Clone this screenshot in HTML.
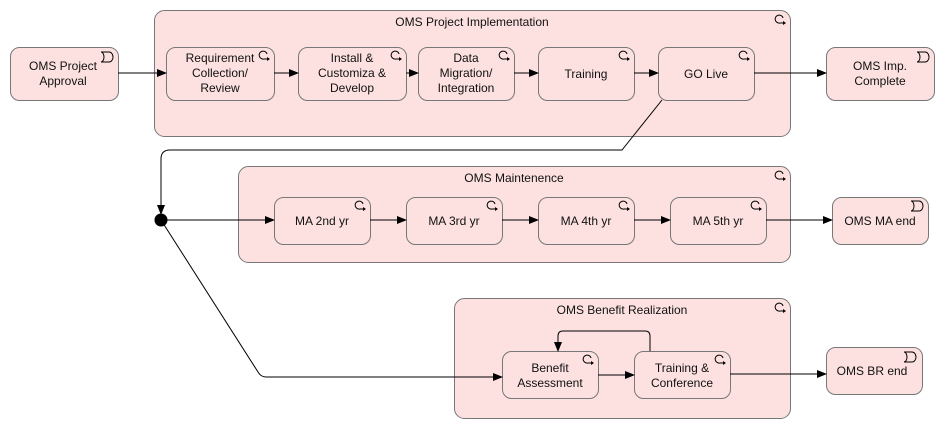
<!DOCTYPE html>
<html><head><meta charset="utf-8"><style>
html,body{margin:0;padding:0;background:#fff;}
svg{display:block;font-family:"Liberation Sans",sans-serif;}
text{font-size:12px;fill:#111;text-anchor:middle;}
.b{fill:#fde1e1;stroke:#777;stroke-width:1;}
.l{stroke:#000;stroke-width:1;fill:none;}
</style></head><body>
<svg width="945" height="429" viewBox="0 0 945 429">
<defs>
<marker id="a" markerWidth="10" markerHeight="8" refX="9" refY="4" orient="auto" markerUnits="userSpaceOnUse"><path d="M0,0 L10,4 L0,8z" fill="#000"/></marker>
<g id="loop"><path d="M6,8 A4,4 0 1 1 9,3" fill="none" stroke="#000" stroke-width="1"/><path d="M6,8 L10,8" stroke="#000"/><path d="M9,6 L12,8 L9,10z" fill="#000"/></g>
<g id="ev"><path d="M0,0 H8 A4,5 0 0 1 8,10 H0 A3,5 0 0 0 0,0z" fill="none" stroke="#000" stroke-width="1"/></g>
</defs>
<!-- groups -->
<rect class="b" x="154.5" y="10.5" width="636" height="126" rx="10"/>
<text x="472" y="26">OMS Project Implementation</text>
<use href="#loop" x="774" y="15"/>
<rect class="b" x="238.5" y="166.5" width="552" height="96" rx="10"/>
<text x="514" y="182">OMS Maintenence</text>
<use href="#loop" x="774" y="171"/>
<rect class="b" x="454.5" y="298.5" width="336" height="120" rx="10"/>
<text x="622" y="314">OMS Benefit Realization</text>
<use href="#loop" x="774" y="303"/>
<!-- row1 -->
<rect class="b" x="10.5" y="47.5" width="108" height="53" rx="9"/>
<text x="63" y="70">OMS Project</text><text x="63" y="85">Approval</text>
<use href="#ev" x="101" y="52"/>
<rect class="b" x="166.5" y="47.5" width="108" height="53" rx="9"/>
<text x="220" y="62">Requirement</text><text x="220" y="77">Collection/</text><text x="220" y="92">Review</text>
<use href="#loop" x="258" y="51"/>
<rect class="b" x="298.5" y="47.5" width="108" height="53" rx="9"/>
<text x="352" y="62">Install &amp;</text><text x="352" y="77">Customiza &amp;</text><text x="352" y="92">Develop</text>
<use href="#loop" x="390" y="51"/>
<rect class="b" x="418.5" y="47.5" width="96" height="53" rx="9"/>
<text x="466" y="62">Data</text><text x="466" y="77">Migration/</text><text x="466" y="92">Integration</text>
<use href="#loop" x="498" y="51"/>
<rect class="b" x="538.5" y="47.5" width="96" height="53" rx="9"/>
<text x="586" y="78">Training</text>
<use href="#loop" x="618" y="51"/>
<rect class="b" x="658.5" y="47.5" width="96" height="53" rx="9"/>
<text x="706" y="78">GO Live</text>
<use href="#loop" x="738" y="51"/>
<rect class="b" x="826.5" y="47.5" width="108" height="53" rx="9"/>
<text x="880" y="70">OMS Imp.</text><text x="880" y="85">Complete</text>
<use href="#ev" x="917" y="52"/>
<path class="l" d="M118,73 H166" marker-end="url(#a)"/>
<path class="l" d="M274,73 H298" marker-end="url(#a)"/>
<path class="l" d="M406,73 H418" marker-end="url(#a)"/>
<path class="l" d="M514,73 H538" marker-end="url(#a)"/>
<path class="l" d="M634,73 H658" marker-end="url(#a)"/>
<path class="l" d="M754,73 H826" marker-end="url(#a)"/>
<path class="l" d="M662,100 L622,150 H170 Q161,150 161,159 V214" marker-end="url(#a)"/>
<circle cx="161" cy="220" r="6.5" fill="#000"/>
<!-- row2 -->
<rect class="b" x="274.5" y="197.5" width="96" height="47" rx="9"/>
<text x="322" y="225">MA 2nd yr</text><use href="#loop" x="354" y="201"/>
<rect class="b" x="406.5" y="197.5" width="96" height="47" rx="9"/>
<text x="454" y="225">MA 3rd yr</text><use href="#loop" x="486" y="201"/>
<rect class="b" x="538.5" y="197.5" width="96" height="47" rx="9"/>
<text x="586" y="225">MA 4th yr</text><use href="#loop" x="618" y="201"/>
<rect class="b" x="670.5" y="197.5" width="96" height="47" rx="9"/>
<text x="718" y="225">MA 5th yr</text><use href="#loop" x="750" y="201"/>
<rect class="b" x="832.5" y="197.5" width="96" height="47" rx="9"/>
<text x="880" y="225">OMS MA end</text><use href="#ev" x="911" y="201"/>
<path class="l" d="M161,220 H274" marker-end="url(#a)"/>
<path class="l" d="M370,220 H406" marker-end="url(#a)"/>
<path class="l" d="M502,220 H538" marker-end="url(#a)"/>
<path class="l" d="M634,220 H670" marker-end="url(#a)"/>
<path class="l" d="M766,220 H832" marker-end="url(#a)"/>
<!-- row3 -->
<rect class="b" x="502.5" y="351.5" width="96" height="47" rx="9"/>
<text x="550" y="372">Benefit</text><text x="550" y="387">Assessment</text><use href="#loop" x="582" y="355"/>
<rect class="b" x="634.5" y="351.5" width="96" height="47" rx="9"/>
<text x="682" y="372">Training &amp;</text><text x="682" y="387">Conference</text><use href="#loop" x="714" y="355"/>
<rect class="b" x="826.5" y="347.5" width="96" height="47" rx="9"/>
<text x="872" y="375">OMS BR end</text><use href="#ev" x="904" y="352"/>
<path class="l" d="M161,220 L258,372 Q261,377 266,377 H502" marker-end="url(#a)"/>
<path class="l" d="M598,375 H634" marker-end="url(#a)"/>
<path class="l" d="M730,374 H826" marker-end="url(#a)"/>
<path class="l" d="M650,351 V336 Q650,331 645,331 H563 Q558,331 558,336 V351" marker-end="url(#a)"/>
</svg>
</body></html>
